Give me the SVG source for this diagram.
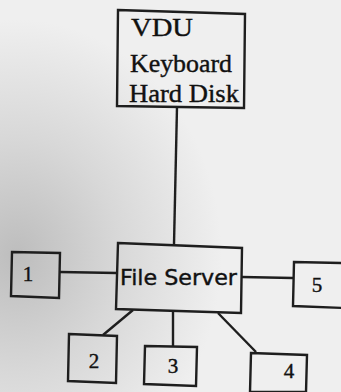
<svg xmlns="http://www.w3.org/2000/svg" width="341" height="392" viewBox="0 0 341 392">
<defs>
<radialGradient id="bg1" cx="0.05" cy="0.65" r="0.6">
<stop offset="0" stop-color="#bdbdbd"/>
<stop offset="0.5" stop-color="#d8d8d8"/>
<stop offset="1" stop-color="#efefef"/>
</radialGradient>
<style>
.box{fill:none;stroke:#1e1e1e;stroke-width:2.4}
.ln{stroke:#1e1e1e;stroke-width:2.4;fill:none}
text{stroke:#111;stroke-width:0.4}
</style>
</defs>
<rect width="341" height="392" fill="url(#bg1)"/>
<g id="connectors">
<line class="ln" x1="177" y1="107" x2="174" y2="244"/>
<line class="ln" x1="60" y1="272" x2="117" y2="273"/>
<line class="ln" x1="242" y1="277" x2="293" y2="278"/>
<line class="ln" x1="133" y1="310" x2="103" y2="335"/>
<line class="ln" x1="173" y1="312" x2="173" y2="346"/>
<line class="ln" x1="218" y1="313" x2="256" y2="352"/>
</g>
<g id="terminal" font-family="'Liberation Serif', 'DejaVu Serif', serif" fill="#111" font-size="26">
<path class="box" d="M118 10 L245 14 L244 108 L117 106 Z"/>
<text x="131" y="36" textLength="62" lengthAdjust="spacingAndGlyphs">VDU</text>
<text x="130" y="72" textLength="102" lengthAdjust="spacingAndGlyphs">Keyboard</text>
<text x="129" y="102" textLength="110" lengthAdjust="spacingAndGlyphs">Hard Disk</text>
</g>
<g id="fileserver" font-family="'DejaVu Sans', 'Liberation Sans', sans-serif" fill="#111">
<path class="box" d="M118 243 L242 248 L241 313 L116 309 Z"/>
<text x="120" y="285" font-size="21" textLength="117" lengthAdjust="spacingAndGlyphs">File Server</text>
</g>
<g id="n1" font-family="'Liberation Serif', serif" fill="#111" font-size="21" text-anchor="middle">
<path class="box" d="M12 252 L60 253 L59 298 L11 296 Z"/>
<text x="28" y="281">1</text>
</g>
<g id="n2" font-family="'Liberation Serif', serif" fill="#111" font-size="21" text-anchor="middle">
<path class="box" d="M69 334 L117 336 L116 383 L68 381 Z"/>
<text x="94" y="368">2</text>
</g>
<g id="n3" font-family="'Liberation Serif', serif" fill="#111" font-size="21" text-anchor="middle">
<path class="box" d="M145 346 L197 347 L196 386 L144 384 Z"/>
<text x="173" y="373">3</text>
</g>
<g id="n4" font-family="'Liberation Serif', serif" fill="#111" font-size="21" text-anchor="middle">
<path class="box" d="M251 353 L307 355 L306 392 L250 392 Z"/>
<text x="289" y="378">4</text>
</g>
<g id="n5" font-family="'Liberation Serif', serif" fill="#111" font-size="21" text-anchor="middle">
<path class="box" d="M294 262 L343 263 L343 308 L293 306 Z"/>
<text x="317" y="292">5</text>
</g>
</svg>
